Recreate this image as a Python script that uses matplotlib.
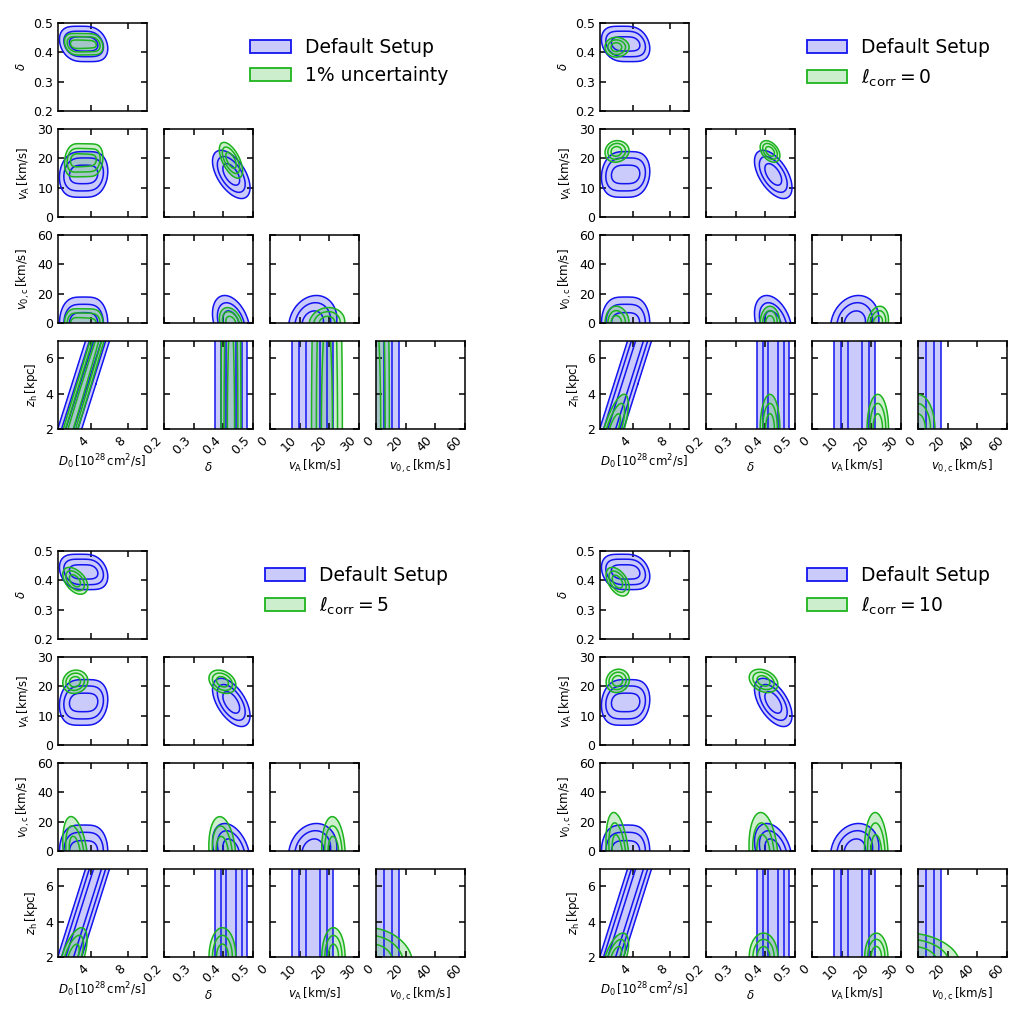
import matplotlib
matplotlib.use("Agg")
import matplotlib.patches as mpatches
import matplotlib.pyplot as plt
import numpy as np

# parameters: D0, delta, vA, v0c, zh
labels = [
    r"$D_0\,[10^{28}\,\mathrm{cm^2/s}]$",
    r"$\delta$",
    r"$v_\mathrm{A}\,[\mathrm{km/s}]$",
    r"$v_{0,\mathrm{c}}\,[\mathrm{km/s}]$",
    r"$z_\mathrm{h}\,[\mathrm{kpc}]$",
]
ranges = [(0.5, 10.0), (0.2, 0.5), (0.0, 30.0), (0.0, 60.0), (2.0, 7.0)]
ticks = [[4, 8], [0.2, 0.3, 0.4, 0.5], [0, 10, 20, 30], [0, 20, 40, 60], [2, 4, 6]]

# posterior summaries
# mean = value at zh = 2 kpc, slope = change per kpc of zh, sd = width
# corr order: D0-delta, D0-vA, D0-v0c, delta-vA, delta-v0c, vA-v0c
# zh = (centre, width) of the zh posterior inside the 2..7 kpc prior
default_mean = [1.75, 0.428, 14.5, 0.0]
default_slope = [0.6, 0.0, 0.0, 0.0]
default_sd = [0.5, 0.021, 2.7, 6.2]
default_corr = [-0.3, 0.15, 0.0, -0.55, -0.35, 0.15]
default_zh = [4.5, 100.0]

unc1_mean = [1.85, 0.427, 19.3, 0.0]
unc1_slope = [0.57, 0.0, 0.0, 0.0]
unc1_sd = [0.3, 0.013, 2.0, 3.5]
unc1_corr = [-0.3, 0.2, 0.0, -0.6, -0.3, 0.1]
unc1_zh = [2.0, 7.0]

corr0_mean = [2.0, 0.417, 22.3, 0.0]
corr0_slope = [0.55, 0.0, 0.0, 0.0]
corr0_sd = [0.36, 0.011, 1.2, 3.8]
corr0_corr = [0.0, 0.1, 0.0, -0.4, 0.0, 0.2]
corr0_zh = [2.0, 0.65]

corr5_mean = [2.1, 0.398, 21.5, 0.0]
corr5_slope = [0.55, 0.0, 0.0, -3.0]
corr5_sd = [0.4, 0.015, 1.3, 8.0]
corr5_corr = [-0.5, 0.1, -0.3, -0.3, -0.2, -0.1]
corr5_zh = [2.0, 0.55]

corr10_mean = [2.2, 0.395, 21.8, 0.0]
corr10_slope = [0.55, 0.0, 0.0, -5.0]
corr10_sd = [0.38, 0.016, 1.3, 9.0]
corr10_corr = [-0.5, 0.1, -0.3, -0.3, -0.2, -0.1]
corr10_zh = [2.0, 0.45]

green_names = ["1% uncertainty", r"$\ell_\mathrm{corr} = 0$",
               r"$\ell_\mathrm{corr} = 5$", r"$\ell_\mathrm{corr} = 10$"]

default = (default_mean, default_slope, default_sd, default_corr, default_zh)
greens = [
    (unc1_mean, unc1_slope, unc1_sd, unc1_corr, unc1_zh),
    (corr0_mean, corr0_slope, corr0_sd, corr0_corr, corr0_zh),
    (corr5_mean, corr5_slope, corr5_sd, corr5_corr, corr5_zh),
    (corr10_mean, corr10_slope, corr10_sd, corr10_corr, corr10_zh),
]

BLUE = "#1414f0"
GREEN = "#1eb41e"
FRACS = [0.99, 0.92, 0.6]
PAIR = {(0, 1): 0, (0, 2): 1, (0, 3): 2, (1, 2): 3, (1, 3): 4, (2, 3): 5}


def density(setup, i, j, X, Y):
    mean, slope, sd, corr, zh = setup
    if j == 4:
        mu = mean[i] + slope[i] * (Y - 2)
        return (np.exp(-0.5 * ((X - mu) / sd[i]) ** 2)
                * np.exp(-0.5 * ((Y - zh[0]) / zh[1]) ** 2))
    rho = corr[PAIR[(i, j)]]
    zg = np.linspace(2, 7, 60)
    wz = np.exp(-0.5 * ((zg - zh[0]) / zh[1]) ** 2)
    out = np.zeros_like(X)
    for z, w in zip(zg, wz):
        u = (X - mean[i] - slope[i] * (z - 2)) / sd[i]
        v = (Y - mean[j] - slope[j] * (z - 2)) / sd[j]
        out += w * np.exp(-(u * u - 2 * rho * u * v + v * v) / (2 * (1 - rho ** 2)))
    return out


def draw(ax, setup, i, j, color):
    x = np.linspace(*ranges[i], 160)
    y = np.linspace(*ranges[j], 160)
    X, Y = np.meshgrid(x, y)
    p = density(setup, i, j, X, Y)
    flat = np.sort(p.ravel())[::-1]
    cum = np.cumsum(flat)
    cum /= cum[-1]
    lv = [flat[np.searchsorted(cum, f)] for f in FRACS]
    ax.contourf(X, Y, p, levels=[lv[0], p.max() * 1.01], colors=[color], alpha=0.22)
    ax.contour(X, Y, p, levels=lv, colors=[color], linewidths=1.1)


W, H = 1030, 1014
fig = plt.figure(figsize=(W / 100, H / 100), dpi=100)

offsets = [(0, 0), (542, 0), (0, 528), (542, 528)]
for k, (ox, oy) in enumerate(offsets):
    for r in range(4):
        for c in range(r + 1):
            left = ox + 58 + 106 * c
            top = oy + 22.7 + 106 * r
            ax = fig.add_axes([left / W, 1 - (top + 88.5) / H, 88.5 / W, 88.5 / H])
            xi, yj = c, r + 1
            draw(ax, default, xi, yj, BLUE)
            draw(ax, greens[k], xi, yj, GREEN)
            ax.set_xlim(ranges[xi])
            ax.set_ylim(ranges[yj])
            ax.set_xticks(ticks[xi])
            ax.set_yticks(ticks[yj])
            ax.tick_params(direction="in", top=True, right=True, length=4,
                           width=1.1, labelsize=9,
                           labelbottom=(r == 3), labelleft=(c == 0))
            for s in ax.spines.values():
                s.set_linewidth(1.1)
            if r == 3:
                plt.setp(ax.get_xticklabels(), rotation=45, ha="right")
                ax.set_xlabel(labels[xi], fontsize=8.5, labelpad=2.5)
            if c == 0:
                ax.set_ylabel(labels[yj], fontsize=8.5)

    handles = [
        mpatches.Patch(facecolor=(0.08, 0.08, 0.94, 0.22), edgecolor=BLUE, linewidth=1.3),
        mpatches.Patch(facecolor=(0.12, 0.7, 0.12, 0.22), edgecolor=GREEN, linewidth=1.3),
    ]
    fig.legend(handles, ["Default Setup", green_names[k]], loc="upper right",
               bbox_to_anchor=((448 + ox) / W, 1 - (38 + oy) / H),
               frameon=False, fontsize=13.5, handlelength=2.15, handleheight=0.7,
               handletextpad=0.75, borderpad=0, borderaxespad=0, labelspacing=0.5)

fig.savefig("out.png", dpi=100)
